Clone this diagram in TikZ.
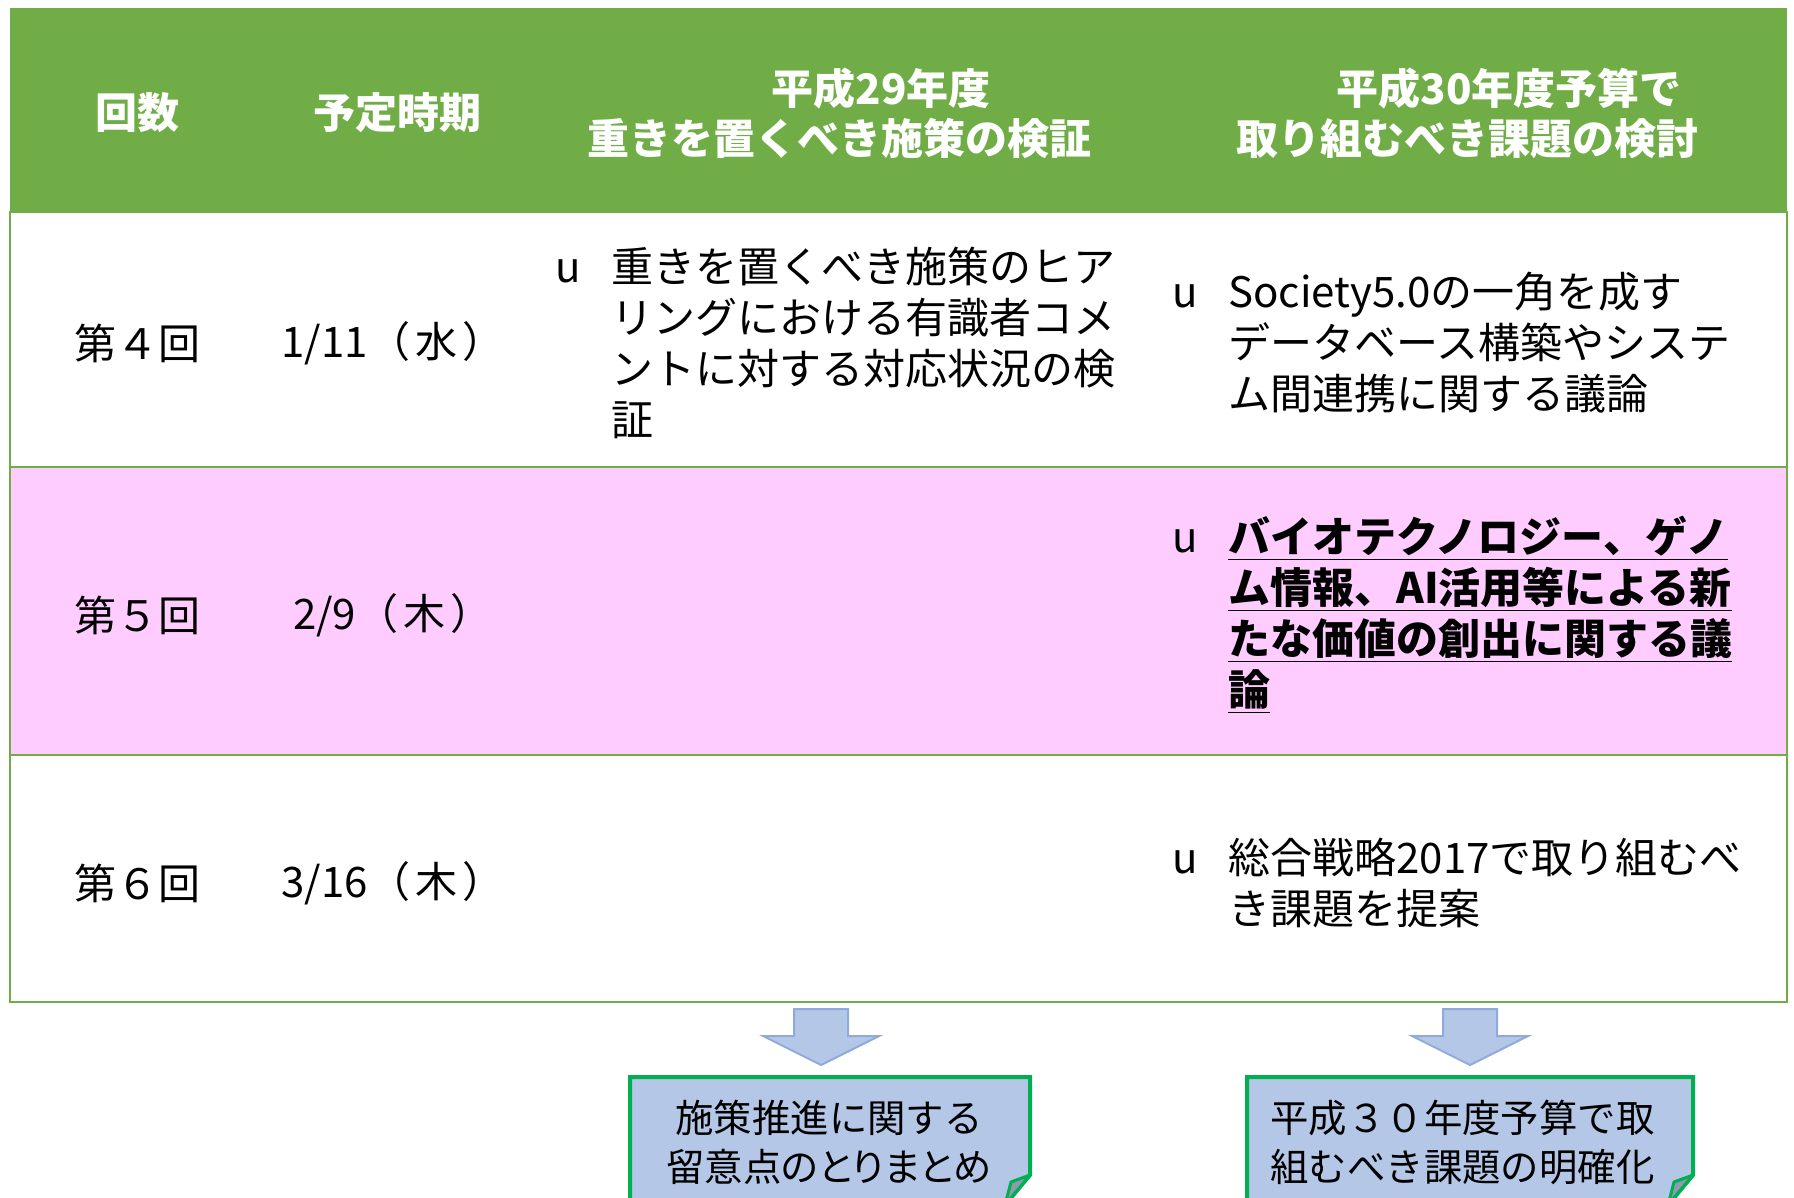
\documentclass[tikz,border=0pt]{standalone}
\usepackage{fontspec}
\setmainfont{Noto Sans CJK JP}
\usetikzlibrary{positioning}

\definecolor{hdrgreen}{HTML}{70AD47}
\definecolor{rowpink}{HTML}{FFCCFF}
\definecolor{arrowblue}{HTML}{B4C7E7}
\definecolor{arrowedge}{HTML}{8FAADC}
\definecolor{boxgreen}{HTML}{00B050}
\definecolor{foldgray}{HTML}{8E9AB2}

% bullet and hanging indent for the item lines
\newcommand{\bul}{\makebox[28pt][l]{u}}
\newcommand{\bulind}{\hspace*{28pt}}
% date with spaced brackets
\newcommand{\meetdate}[2]{#1\hspace{0.02em}（\hspace{0.12em}#2\hspace{0.12em}）}

\tikzset{
  hdr/.style={font=\fontsize{21}{25}\selectfont\bfseries, text=white, align=center, inner sep=0pt},
  cell/.style={font=\fontsize{21}{25.5}\selectfont, inner sep=0pt},
  item/.style={cell, align=left, anchor=west},
  sumtext/.style={font=\fontsize{19.2}{24.5}\selectfont, inner sep=0pt},
  gridline/.style={draw=hdrgreen, line width=0.7pt},
  downarrow/.style={fill=arrowblue, draw=arrowedge, line width=1pt},
  sumbox/.style={fill=arrowblue, draw=boxgreen, line width=2pt},
  foldbox/.style={fill=foldgray, draw=boxgreen, line width=1.5pt, line join=round},
}

\begin{document}
\begin{tikzpicture}[x=0.5pt,y=-0.5pt]
  \useasboundingbox (0,0) rectangle (1794,1198);
  \clip (0,0) rectangle (1794,1198);

  % table background
  \fill[hdrgreen] (10,8) rectangle (1787,212);
  \fill[rowpink] (10,467) rectangle (1787,755);
  \draw[gridline] (10,212) rectangle (1787,1002);
  \draw[gridline] (10,467) -- (1787,467);
  \draw[gridline] (10,755) -- (1787,755);

  % header
  \node[hdr] (hNo) at (137,113) {回数};
  \node[hdr] (hDate) at (397,113) {予定時期};
  \node[hdr] (hCur) at (839,113) {\hspace*{2em}平成29年度\\重きを置くべき施策の検証};
  \node[hdr] (hNext) at (1467,113) {\hspace*{2em}平成30年度予算で\\取り組むべき課題の検討};

  % rows
  \node[cell] (n4) at (137,343) {第４回};
  \node[cell] (d4) at (393,343) {\meetdate{1/11}{水}};
  \node[cell] (n5) at (137,615) {第５回};
  \node[cell] (d5) at (393,615) {\meetdate{2/9}{木}};
  \node[cell] (n6) at (137,883) {第６回};
  \node[cell] (d6) at (393,883) {\meetdate{3/16}{木}};

  \node[item] (c4) at (555,343) {\bul 重きを置くべき施策のヒア\\
    \bulind リングにおける有識者コメ\\
    \bulind ントに対する対応状況の検\\
    \bulind 証};
  \node[item] (f4) at (1172,343) {\bul Society5.0の一角を成す\\
    \bulind データベース構築やシステ\\
    \bulind ム間連携に関する議論};
  \node[item] (f5) at (1172,615) {\bul\underline{\bfseries バイオテクノロジー、ゲノ}\\
    \bulind\underline{\bfseries ム情報、AI活用等による新}\\
    \bulind\underline{\bfseries たな価値の創出に関する議}\\
    \bulind\underline{\bfseries 論}};
  \node[item] (f6) at (1172,883) {\bul 総合戦略2017で取り組むべ\\
    \bulind き課題を提案};

  % block arrows
  \foreach \cx/\nm in {821/arrCur,1470/arrNext} {
    \coordinate (\nm) at (\cx,1009);
    \path[downarrow] ([xshift=-13.5pt]\nm) -- ([xshift=13.5pt]\nm)
      -- ([xshift=13.5pt,yshift=-13.5pt]\nm) -- ([xshift=29pt,yshift=-13.5pt]\nm)
      -- ([yshift=-28pt]\nm) -- ([xshift=-29pt,yshift=-13.5pt]\nm)
      -- ([xshift=-13.5pt,yshift=-13.5pt]\nm) -- cycle;
  }

  % result boxes with folded corner
  \path[sumbox] (630,1077) -- (1030,1077) -- (1030,1175) -- (1005,1205) -- (630,1205) -- cycle;
  \path[foldbox] (1030,1175) -- (1011,1182) -- (1005,1205) -- cycle;
  \path[sumbox] (1247,1077) -- (1693,1077) -- (1693,1175) -- (1668,1205) -- (1247,1205) -- cycle;
  \path[foldbox] (1693,1175) -- (1674,1182) -- (1668,1205) -- cycle;

  \node[sumtext, align=center] (sumCur) at (829,1142) {施策推進に関する\\{\addfontfeatures{RawFeature=+palt}留意点のとりまとめ}};
  \node[sumtext, align=left, anchor=west] (sumNext) at (1270,1142) {平成３０年度予算で取\\組むべき課題の明確化};
\end{tikzpicture}
\end{document}
